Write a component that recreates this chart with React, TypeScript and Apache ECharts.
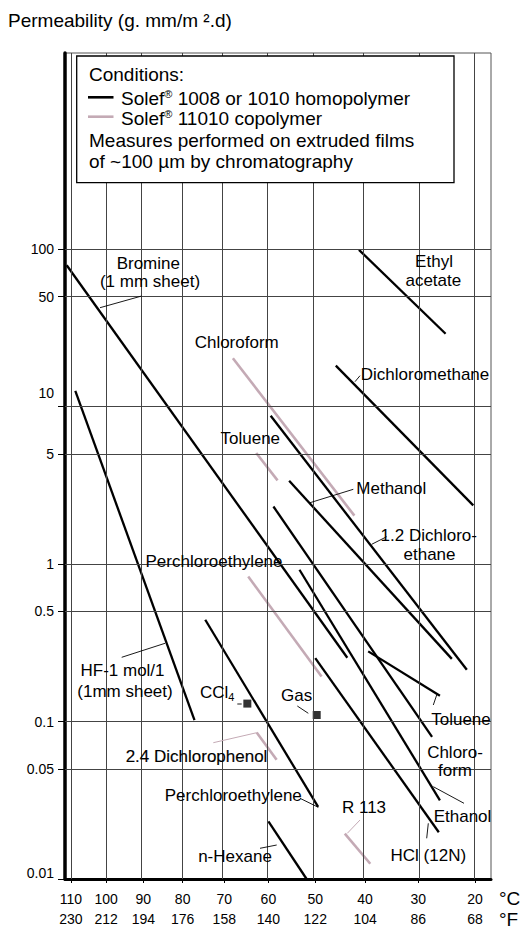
import React, { useEffect, useRef } from 'react';
import * as echarts from 'echarts';

// Axis ticks
const tempC = [110, 100, 90, 80, 70, 60, 50, 40, 30, 20];
const tempF = [230, 212, 194, 176, 158, 140, 122, 104, 86, 68];
const permTicks = [0.01, 0.05, 0.1, 0.5, 1, 5, 10, 50, 100];
const permLabels = ['0.01', '0.05', '0.1', '0.5', '1', '5', '10', '50', '100'];
const tempRange = [111.7, 17.3];
const permRange = [0.01, 1760];

// Solef 1008 / 1010 homopolymer: [°C, permeability]
const bromine = [[111.2, 79], [43.5, 0.254]];
const ethylAcetate = [[41.2, 99], [25.1, 29]];
const dichloromethane = [[45.8, 18.2], [20.3, 2.36]];
const hf = [[108.7, 12.6], [77.1, 0.102]];
const dichloroethane = [[59.5, 8.74], [21.4, 0.213]];
const methanol = [[55.5, 3.38], [24.0, 0.25]];
const chloroformHomo = [[58.9, 2.32], [27.5, 0.08]];
const ethanol = [[53.3, 0.92], [26.1, 0.0316]];
const tolueneHomo = [[39.4, 0.279], [26.1, 0.146]];
const hcl = [[50.0, 0.253], [26.3, 0.0198]];
const perchloroHomo = [[74.5, 0.443], [49.4, 0.0287]];
const nHexane = [[60.0, 0.0232], [51.8, 0.01]];

// Solef 11010 copolymer
const chloroformCo = [[68.0, 20.3], [42.1, 2.03]];
const tolueneCo = [[62.7, 5.07], [58.0, 3.4]];
const perchloroCo = [[64.5, 0.834], [48.7, 0.193]];
const dichlorophenolCo = [[62.6, 0.0852], [58.2, 0.0572]];
const r113Co = [[44.0, 0.0194], [39.0, 0.0125]];

// single measurements
const ccl4 = [[64.7, 0.13]];
const gas = [[49.7, 0.11]];

const FONT = '"Liberation Sans", Arial, Helvetica, sans-serif';
const BLACK = '#000000';
const PINK = '#c4aab5';

// Arrhenius-type temperature scale (1000 / K)
const toU = (t: number) => 1000 / (t + 273.15);

const lineSeries = (name: string, pts: number[][], color: string) => ({
  type: 'line',
  name,
  data: pts.map(([t, v]) => [toU(t), v]),
  symbol: 'none',
  silent: true,
  z: 3,
  lineStyle: { color, width: color === BLACK ? 2.3 : 2.6, cap: 'butt' },
});

const txt = (text: string, x: number, y: number, extra: any = {}, z = 50) => ({
  type: 'text',
  x,
  y,
  z,
  silent: true,
  style: {
    text,
    fontSize: 17,
    fontFamily: FONT,
    fill: '#000',
    align: 'center',
    verticalAlign: 'middle',
    ...extra,
  },
});

const seg = (x1: number, y1: number, x2: number, y2: number, color = '#000', w = 0.9, z = 50) => ({
  type: 'line',
  z,
  silent: true,
  shape: { x1, y1, x2, y2 },
  style: { stroke: color, lineWidth: w },
});

function buildOption() {
  const series: any[] = [
    {
      type: 'line',
      data: [],
      z: 1,
      silent: true,
      markLine: {
        silent: true,
        symbol: ['none', 'none'],
        label: { show: false },
        lineStyle: { color: '#444', width: 1, type: 'solid' },
        data: [
          ...tempC.map((t) => ({ xAxis: toU(t) })),
          ...permTicks.slice(1).map((v) => ({ yAxis: v })),
        ],
      },
    },
    lineSeries('Bromine', bromine, BLACK),
    lineSeries('Ethyl acetate', ethylAcetate, BLACK),
    lineSeries('Dichloromethane', dichloromethane, BLACK),
    lineSeries('HF-1 mol/1', hf, BLACK),
    lineSeries('1.2 Dichloroethane', dichloroethane, BLACK),
    lineSeries('Methanol', methanol, BLACK),
    lineSeries('Chloroform', chloroformHomo, BLACK),
    lineSeries('Ethanol', ethanol, BLACK),
    lineSeries('Toluene', tolueneHomo, BLACK),
    lineSeries('HCl (12N)', hcl, BLACK),
    lineSeries('Perchloroethylene', perchloroHomo, BLACK),
    lineSeries('n-Hexane', nHexane, BLACK),
    lineSeries('Chloroform (copolymer)', chloroformCo, PINK),
    lineSeries('Toluene (copolymer)', tolueneCo, PINK),
    lineSeries('Perchloroethylene (copolymer)', perchloroCo, PINK),
    lineSeries('2.4 Dichlorophenol', dichlorophenolCo, PINK),
    lineSeries('R 113', r113Co, PINK),
    {
      type: 'scatter',
      name: 'CCl4',
      data: ccl4.map(([t, v]) => [toU(t), v]),
      symbol: 'rect',
      symbolSize: 8,
      itemStyle: { color: '#000' },
      z: 4,
      silent: true,
    },
    {
      type: 'scatter',
      name: 'Gas',
      data: gas.map(([t, v]) => [toU(t), v]),
      symbol: 'rect',
      symbolSize: 8,
      itemStyle: { color: '#000' },
      z: 4,
      silent: true,
    },
  ];

  const supRich = { sup: { fontSize: 11, fontFamily: FONT, fill: '#000', padding: [0, 0, 9, 0] } };

  const graphic: any[] = [
    // legend box
    {
      type: 'rect',
      z: 100,
      silent: true,
      shape: { x: 76.7, y: 56, width: 377.3, height: 126.7 },
      style: { fill: '#fff', stroke: '#000', lineWidth: 1.3 },
    },
    txt('Conditions:', 89, 74, { align: 'left', fontSize: 19 }, 110),
    seg(88, 97.3, 113.5, 97.3, '#000', 2.6, 110),
    seg(88, 116.7, 113.5, 116.7, PINK, 2.6, 110),
    txt('Solef{sup|®} 1008 or 1010 homopolymer', 121, 98, { align: 'left', fontSize: 19, rich: supRich }, 110),
    txt('Solef{sup|®} 11010 copolymer', 121, 118.5, { align: 'left', fontSize: 19, rich: supRich }, 110),
    txt('Measures performed on extruded films', 89, 140, { align: 'left', fontSize: 19 }, 110),
    txt('of ~100 µm by chromatography', 89, 161.5, { align: 'left', fontSize: 19 }, 110),
    // unit labels
    txt('°C', 499, 898.5, { align: 'left', fontSize: 19 }),
    txt('°F', 499, 919.5, { align: 'left', fontSize: 19 }),
    // curve labels
    txt('Bromine', 148.3, 263.5),
    txt('(1 mm sheet)', 150, 281.7),
    txt('Ethyl', 434, 261.7),
    txt('acetate', 433.3, 280),
    txt('Chloroform', 236.7, 342.7),
    txt('Dichloromethane', 425, 374.3),
    txt('Toluene', 250.3, 438.3),
    txt('Methanol', 391.3, 488.3),
    txt('1.2 Dichloro-', 428.8, 535),
    txt('ethane', 429.5, 554.5),
    txt('Perchloroethylene', 214, 561),
    txt('HF-1 mol/1', 122.5, 670),
    txt('(1mm sheet)', 125, 691.7),
    txt('CCl{sub|4}', 200, 692, {
      align: 'left',
      rich: { sub: { fontSize: 11, fontFamily: FONT, fill: '#000', padding: [10, 0, 0, 0] } },
    }),
    txt('Gas', 296.7, 695),
    txt('Toluene', 461, 719.3),
    txt('2.4 Dichlorophenol', 196.5, 756, { stroke: '#000', lineWidth: 0.15 }),
    txt('Chloro-', 455, 752.7),
    txt('form', 455, 770.7),
    txt('Perchloroethylene', 233.3, 795),
    txt('R 113', 364, 807.7),
    txt('Ethanol', 462.5, 816),
    txt('HCl (12N)', 428.3, 855),
    txt('n-Hexane', 235, 856.7),
    // leader lines
    seg(100, 307.7, 141.7, 296),
    seg(355, 381.7, 360, 375.7),
    seg(310, 502.7, 353.3, 489.3),
    seg(371.7, 544.3, 386.7, 536.7),
    seg(121.7, 657.3, 165, 643.3),
    seg(237.3, 704, 241.7, 704),
    seg(297.3, 706, 308.3, 713.3),
    seg(433.3, 705, 436.7, 695),
    seg(213.3, 742.7, 256.7, 732.7, PINK, 1),
    seg(300, 798.3, 318.3, 807.3),
    seg(347.3, 833.3, 360, 820, PINK, 1),
    seg(433.3, 786.7, 464, 803.3),
    seg(426.7, 838.3, 428.3, 823.3),
    seg(260, 848.3, 276.7, 845),
  ];

  return {
    animation: false,
    backgroundColor: '#fff',
    title: {
      text: 'Permeability (g. mm/m ².d)',
      left: 8,
      top: 11,
      padding: 0,
      textStyle: { fontSize: 19, fontWeight: 'normal', fontFamily: FONT, color: '#000' },
    },
    grid: {
      left: 65,
      right: 32,
      top: 53,
      bottom: 50,
      show: true,
      borderColor: '#555',
      borderWidth: 1,
      backgroundColor: 'transparent',
    },
    xAxis: {
      type: 'value',
      min: toU(tempRange[0]),
      max: toU(tempRange[1]),
      axisLine: { show: true, onZero: false, lineStyle: { color: '#000', width: 3 } },
      axisTick: {
        show: true,
        length: 4,
        customValues: tempC.map(toU),
        lineStyle: { color: '#000', width: 1 },
      },
      axisLabel: {
        customValues: tempC.map(toU),
        formatter: (u: number) => {
          const t = 1000 / u - 273.15;
          let idx = 0;
          tempC.forEach((c, i) => {
            if (Math.abs(c - t) < Math.abs(tempC[idx] - t)) idx = i;
          });
          return tempC[idx] + '\n' + tempF[idx];
        },
        margin: 10,
        fontSize: 14,
        lineHeight: 20,
        color: '#000',
        fontFamily: FONT,
      },
      splitLine: { show: false },
    },
    yAxis: {
      type: 'log',
      logBase: 10,
      min: permRange[0],
      max: permRange[1],
      axisLine: { show: true, lineStyle: { color: '#000', width: 3.5 } },
      axisTick: {
        show: true,
        length: 7,
        customValues: permTicks,
        lineStyle: { color: '#000', width: 1 },
      },
      axisLabel: {
        customValues: permTicks,
        formatter: (v: number) => {
          let idx = 0;
          permTicks.forEach((p, i) => {
            if (Math.abs(Math.log10(p) - Math.log10(v)) < Math.abs(Math.log10(permTicks[idx]) - Math.log10(v))) idx = i;
          });
          const s = permLabels[idx];
          if (s === '10') return '{up|' + s + '}';
          if (s === '0.01') return '{up2|' + s + '}';
          return s;
        },
        margin: 11,
        fontSize: 14,
        color: '#000',
        fontFamily: FONT,
        rich: {
          up: { fontSize: 14, fontFamily: FONT, color: '#000', padding: [0, 0, 28, 0] },
          up2: { fontSize: 14, fontFamily: FONT, color: '#000', padding: [0, 0, 12, 0] },
        },
      },
      splitLine: { show: false },
      minorTick: { show: false },
    },
    series,
    graphic,
  };
}

export default function App() {
  const ref = useRef<HTMLDivElement>(null);
  useEffect(() => {
    if (!ref.current) return;
    const chart = echarts.init(ref.current, undefined, { renderer: 'svg', width: 523, height: 929 });
    chart.setOption(buildOption() as any);
    return () => chart.dispose();
  }, []);
  return (
    <div
      ref={ref}
      style={{ position: 'fixed', left: 0, top: 0, width: 523, height: 929, background: '#fff' }}
    />
  );
}
